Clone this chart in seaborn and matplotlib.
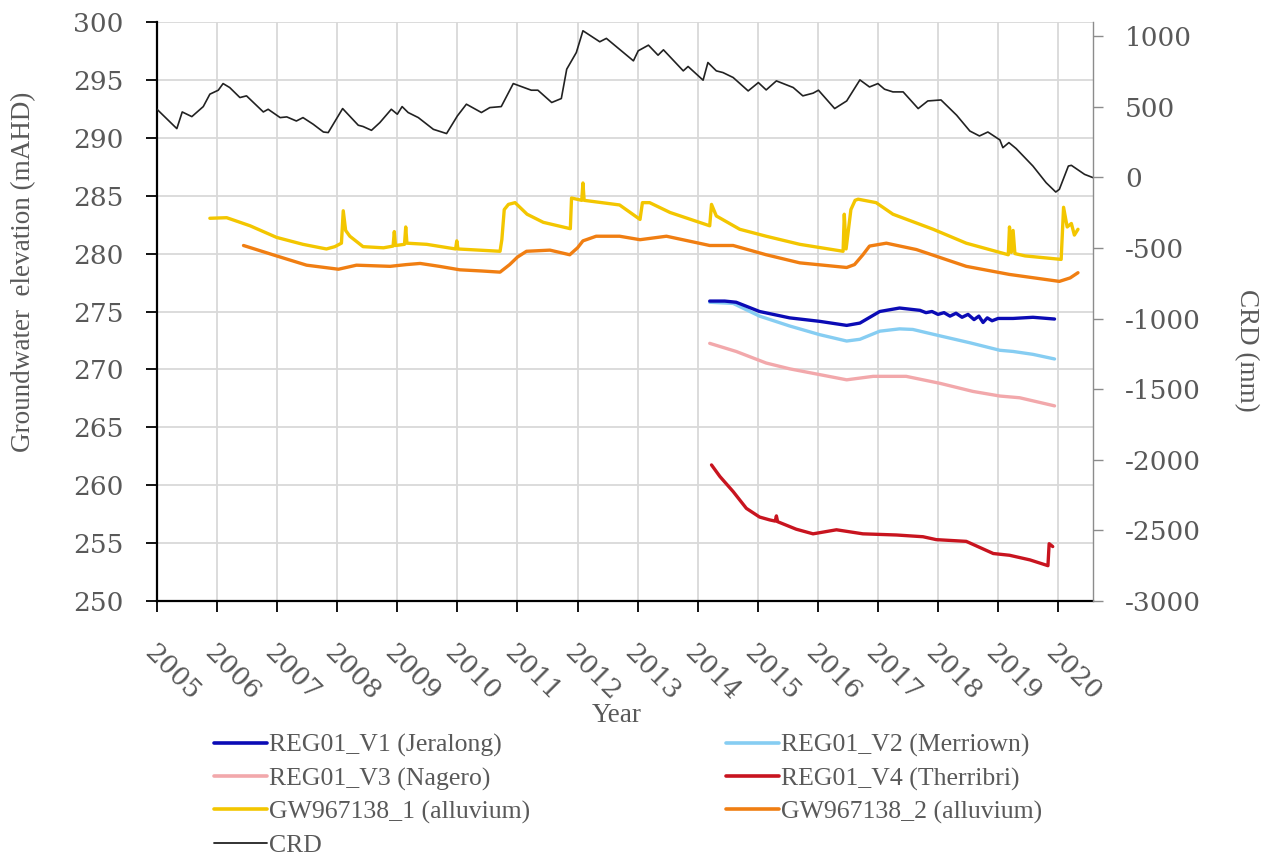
import matplotlib
matplotlib.use("Agg")
import matplotlib.pyplot as plt
import pandas as pd
import seaborn as sns

# ---------------- groundwater levels (decimal year, mAHD) ----------------
v1_year = [2014.20, 2014.45, 2014.64, 2015.03, 2015.53, 2016.03, 2016.48, 2016.70,
           2017.03, 2017.36, 2017.70, 2017.80, 2017.90, 2018.00, 2018.10, 2018.20,
           2018.30, 2018.40, 2018.50, 2018.60, 2018.68, 2018.75, 2018.82, 2018.90,
           2019.00, 2019.25, 2019.58, 2019.94]
v1_level = [275.9, 275.9, 275.8, 275.0, 274.45, 274.15, 273.8, 274.0,
            275.0, 275.3, 275.1, 274.9, 275.0, 274.75, 274.9, 274.6,
            274.85, 274.5, 274.75, 274.3, 274.6, 274.05, 274.45, 274.2,
            274.4, 274.4, 274.5, 274.35]

v2_year = [2014.20, 2014.59, 2015.03, 2015.53, 2016.03, 2016.48, 2016.70, 2017.03,
           2017.36, 2017.58, 2018.03, 2018.53, 2019.03, 2019.25, 2019.58, 2019.94]
v2_level = [275.8, 275.7, 274.6, 273.75, 273.0, 272.45, 272.6, 273.3,
            273.5, 273.45, 272.9, 272.3, 271.65, 271.55, 271.3, 270.9]

v3_year = [2014.20, 2014.64, 2015.14, 2015.53, 2016.03, 2016.48, 2016.92, 2017.47,
           2018.03, 2018.58, 2019.03, 2019.36, 2019.94]
v3_level = [272.25, 271.55, 270.55, 270.05, 269.55, 269.1, 269.4, 269.4,
            268.8, 268.1, 267.7, 267.55, 266.85]

v4_year = [2014.23, 2014.37, 2014.59, 2014.81, 2015.03, 2015.20, 2015.29, 2015.31,
           2015.33, 2015.64, 2015.92, 2016.31, 2016.75, 2017.31, 2017.75, 2017.97,
           2018.47, 2018.92, 2019.19, 2019.53, 2019.83, 2019.85, 2019.91]
v4_level = [261.75, 260.75, 259.45, 258.0, 257.25, 257.0, 256.9, 257.35,
            256.85, 256.2, 255.8, 256.15, 255.8, 255.7, 255.55, 255.3,
            255.15, 254.1, 253.95, 253.55, 253.05, 254.95, 254.7]

gw1_year = [2005.88, 2006.16, 2006.55, 2006.99, 2007.43, 2007.82, 2007.96, 2008.07,
            2008.10, 2008.14, 2008.21, 2008.43, 2008.77, 2008.93, 2008.95, 2008.97,
            2009.12, 2009.14, 2009.16, 2009.49, 2009.97, 2009.99, 2010.01, 2010.71,
            2010.74, 2010.78, 2010.85, 2010.96, 2011.16, 2011.43, 2011.88, 2011.90,
            2012.07, 2012.09, 2012.11, 2012.70, 2013.04, 2013.08, 2013.20, 2013.54,
            2014.20, 2014.23, 2014.31, 2014.70, 2015.14, 2015.70, 2016.42, 2016.44,
            2016.47, 2016.55, 2016.62, 2016.67, 2016.97, 2017.25, 2017.92, 2018.47,
            2019.17, 2019.19, 2019.22, 2019.25, 2019.28, 2019.45, 2020.05, 2020.09,
            2020.15, 2020.22, 2020.27, 2020.33]
gw1_level = [283.05, 283.1, 282.4, 281.4, 280.8, 280.4, 280.6, 280.9,
             283.7, 282.0, 281.5, 280.6, 280.5, 280.65, 281.9, 280.7,
             280.8, 282.3, 280.9, 280.8, 280.4, 281.1, 280.4, 280.2,
             281.2, 283.8, 284.25, 284.4, 283.4, 282.7, 282.15, 284.8,
             284.6, 286.1, 284.6, 284.2, 282.95, 284.4, 284.4, 283.55,
             282.4, 284.25, 283.25, 282.1, 281.5, 280.8, 280.2, 283.4,
             280.4, 283.8, 284.6, 284.7, 284.4, 283.4, 282.1, 280.9,
             279.9, 282.3, 280.1, 282.0, 280.0, 279.8, 279.5, 284.0,
             282.3, 282.6, 281.6, 282.1]

gw2_year = [2006.44, 2006.99, 2007.49, 2008.02, 2008.32, 2008.60, 2008.88, 2009.15,
            2009.38, 2009.70, 2010.04, 2010.40, 2010.71, 2010.87, 2011.00, 2011.15,
            2011.54, 2011.87, 2012.00, 2012.09, 2012.31, 2012.70, 2013.04, 2013.48,
            2014.20, 2014.59, 2015.14, 2015.70, 2016.48, 2016.61, 2016.75, 2016.86,
            2017.14, 2017.64, 2018.47, 2019.19, 2020.02, 2020.20, 2020.33]
gw2_level = [280.7, 279.8, 279.0, 278.65, 279.0, 278.95, 278.9, 279.05,
             279.15, 278.9, 278.6, 278.5, 278.4, 279.05, 279.7, 280.2,
             280.3, 279.9, 280.5, 281.1, 281.5, 281.5, 281.2, 281.5,
             280.7, 280.7, 279.9, 279.2, 278.8, 279.05, 279.9, 280.65,
             280.9, 280.35, 278.9, 278.2, 277.6, 277.9, 278.35]

# ---------------- cumulative rainfall departure (mm) ----------------
crd_year = [2005.00, 2005.33, 2005.42, 2005.58, 2005.77, 2005.88, 2006.02, 2006.10,
            2006.21, 2006.38, 2006.49, 2006.77, 2006.85, 2007.05, 2007.16, 2007.32,
            2007.43, 2007.60, 2007.77, 2007.85, 2008.09, 2008.35, 2008.43, 2008.57,
            2008.71, 2008.90, 2009.00, 2009.08, 2009.18, 2009.35, 2009.60, 2009.82,
            2010.00, 2010.15, 2010.40, 2010.54, 2010.73, 2010.93, 2011.23, 2011.34,
            2011.57, 2011.73, 2011.82, 2011.98, 2012.09, 2012.37, 2012.48, 2012.93,
            2013.01, 2013.18, 2013.34, 2013.43, 2013.76, 2013.84, 2014.09, 2014.17,
            2014.31, 2014.42, 2014.59, 2014.84, 2015.01, 2015.14, 2015.31, 2015.59,
            2015.75, 2015.92, 2016.01, 2016.28, 2016.48, 2016.70, 2016.86, 2017.00,
            2017.11, 2017.25, 2017.42, 2017.67, 2017.83, 2018.05, 2018.31, 2018.53,
            2018.69, 2018.83, 2019.03, 2019.08, 2019.18, 2019.30, 2019.58, 2019.80,
            2019.96, 2020.02, 2020.17, 2020.22, 2020.44, 2020.58]
crd_mm = [482, 345, 463, 430, 501, 589, 617, 664,
          636, 565, 577, 463, 482, 423, 428, 399,
          423, 376, 321, 317, 487, 369, 360, 333,
          388, 482, 447, 501, 459, 423, 340, 310,
          435, 518, 459, 494, 501, 664, 617, 617,
          530, 558, 766, 884, 1038, 960, 984, 825,
          896, 936, 865, 903, 754, 785, 688, 813,
          754, 742, 707, 612, 671, 619, 683, 636,
          577, 596, 617, 487, 541, 690, 640, 664,
          624, 605, 605, 487, 541, 548, 440, 328,
          293, 321, 265, 210, 246, 204, 80, -38,
          -104, -85, 80, 85, 21, -2]

bore_names = ["REG01_V1 (Jeralong)", "REG01_V2 (Merriown)", "REG01_V3 (Nagero)",
              "REG01_V4 (Therribri)", "GW967138_1 (alluvium)", "GW967138_2 (alluvium)"]
bore_colors = ["#0b0bb5", "#86cdf2", "#f2a8ab", "#c8141f", "#f3c600", "#f07e12"]
year_ticks = list(range(2005, 2021))
level_ticks = list(range(250, 301, 5))
crd_ticks = list(range(-3000, 1001, 500))

TEXT = "#595959"
GRID = "#d9d9d9"
TITLE_FONT = "Liberation Serif"

sns.set_theme(style="white")
plt.rcParams["font.family"] = ["DejaVu Serif"]
plt.rcParams["axes.unicode_minus"] = False

series = [(bore_names[0], v1_year, v1_level), (bore_names[1], v2_year, v2_level),
          (bore_names[2], v3_year, v3_level), (bore_names[3], v4_year, v4_level),
          (bore_names[4], gw1_year, gw1_level), (bore_names[5], gw2_year, gw2_level)]
levels = pd.concat([pd.DataFrame({"year": y, "level": v, "bore": n}) for n, y, v in series],
                   ignore_index=True)
crd = pd.DataFrame({"year": crd_year, "crd": crd_mm, "bore": "CRD"})

W, H = 1274, 857
fig = plt.figure(figsize=(W / 100, H / 100), dpi=100)
ax = fig.add_axes([157 / W, 1 - 601 / H, (1093 - 157) / W, (601 - 22) / H])

sns.lineplot(data=levels, x="year", y="level", hue="bore", hue_order=bore_names,
             palette=dict(zip(bore_names, bore_colors)), estimator=None, sort=False,
             linewidth=2.4, ax=ax)
ax.lines[0].set_zorder(3)

ax2 = ax.twinx()
sns.lineplot(data=crd, x="year", y="crd", hue="bore", palette={"CRD": "#222222"},
             estimator=None, sort=False, linewidth=1.2, ax=ax2)

# axes ranges and ticks
ax.set_xlim(2005, 2020.58)
ax.set_ylim(250, 300)
ax2.set_ylim(-3000, 1100)
ax.set_xticks(year_ticks)
ax.set_xticklabels([str(y) for y in year_ticks])
ax.set_yticks(level_ticks)
ax2.set_yticks(crd_ticks)
ax.set_xlabel("")
ax.set_ylabel("")
ax2.set_ylabel("")

ax.grid(True, color=GRID, linewidth=1.3)
ax.set_axisbelow(True)

for s in ["top", "right"]:
    ax.spines[s].set_visible(False)
for s in ["top", "left", "bottom"]:
    ax2.spines[s].set_visible(False)
ax.spines["left"].set_color("black")
ax.spines["left"].set_linewidth(1.6)
ax.spines["bottom"].set_color("black")
ax.spines["bottom"].set_linewidth(1.6)
ax2.spines["right"].set_color("#8c8c8c")
ax2.spines["right"].set_linewidth(1.0)

ax.tick_params(axis="y", direction="out", length=8, width=1.3, color="black",
               pad=16, labelsize=19, labelcolor=TEXT, left=True)
ax.tick_params(axis="x", direction="out", length=8, width=1.3, color="black",
               pad=20, labelsize=19, labelcolor=TEXT, bottom=True)
ax2.tick_params(axis="y", direction="out", length=7, width=1.0, color="#8c8c8c",
                pad=16, labelsize=19, labelcolor=TEXT, right=True)
for lab in ax.get_xticklabels():
    lab.set_rotation(-45)
    lab.set_ha("left")
    lab.set_va("top")
    lab.set_rotation_mode("anchor")

# axis titles
fig.text(24 / W, 1 - 272 / H, "Groundwater  elevation (mAHD)", rotation=90,
         ha="center", va="center", fontsize=19.5, color=TEXT, family=TITLE_FONT)
fig.text(1246 / W, 1 - 350 / H, "CRD (mm)", rotation=-90,
         ha="center", va="center", fontsize=19.5, color=TEXT, family=TITLE_FONT)
fig.text(617 / W, 1 - 716 / H, "Year", ha="center", va="center",
         fontsize=19.5, color=TEXT, family=TITLE_FONT)

# combined legend below the plot, laid out as two columns
leg1 = ax.get_legend()
leg2 = ax2.get_legend()
handles = list(leg1.legend_handles) + list(leg2.legend_handles)
labels = [t.get_text() for t in leg1.get_texts()] + [t.get_text() for t in leg2.get_texts()]
leg1.remove()
leg2.remove()
for h in handles[:-1]:
    h.set_linewidth(2.6)
handles[-1].set_linewidth(1.3)

legend_kw = dict(loc="upper left", frameon=False,
                 prop={"family": TITLE_FONT, "size": 18.5}, handlelength=2.05,
                 handletextpad=0.08, labelspacing=0.38, borderpad=0,
                 borderaxespad=0, labelcolor=TEXT)
left_col = [0, 2, 4, 6]
right_col = [1, 3, 5]
fig.legend([handles[i] for i in left_col], [labels[i] for i in left_col],
           bbox_to_anchor=(214 / W, 1 - 734 / H), **legend_kw)
fig.legend([handles[i] for i in right_col], [labels[i] for i in right_col],
           bbox_to_anchor=(726 / W, 1 - 734 / H), **legend_kw)

fig.savefig("out.png", dpi=100, facecolor="white")
